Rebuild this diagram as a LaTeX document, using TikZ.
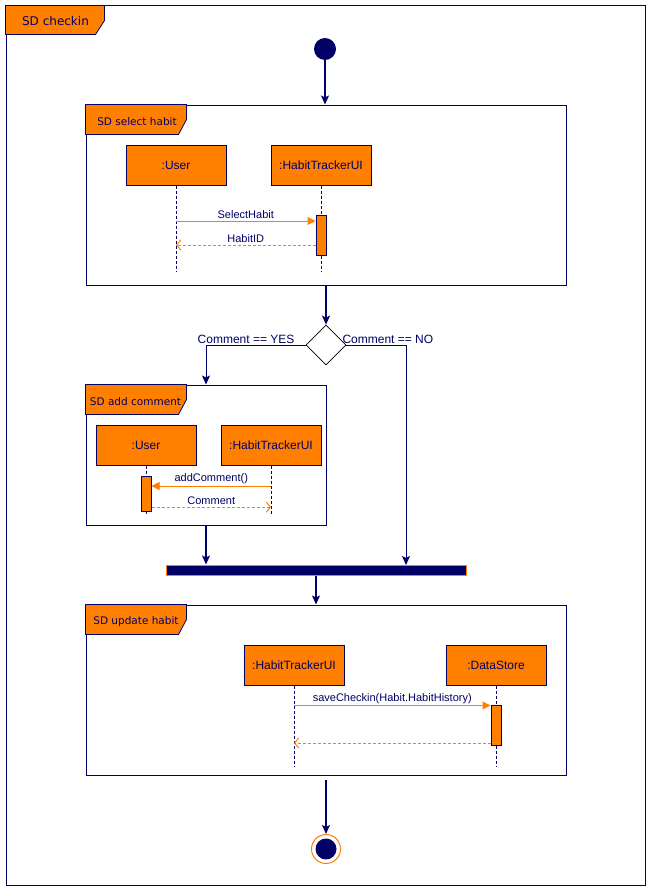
\documentclass[tikz,border=0pt]{standalone}
\usepackage{fontspec}
\setmainfont{Liberation Sans}
\newfontfamily\tabfont{DejaVu Sans}
\usetikzlibrary{arrows.meta,shapes.geometric,positioning}

\definecolor{sdnavy}{HTML}{000066}
\definecolor{sdorange}{HTML}{FF8000}

\tikzset{
  sdframe/.style={draw=sdnavy, line width=1pt, inner sep=0pt},
  sdtab/.style={draw=sdnavy, fill=sdorange, line width=0.8pt},
  tabtext/.style={text=sdnavy, inner sep=0pt, font=\tabfont\fontsize{10.5}{12}\selectfont},
  obj/.style={draw=sdnavy, fill=sdorange, line width=1pt, minimum width=100pt, minimum height=40pt,
    inner sep=0pt, text=sdnavy, font=\fontsize{12}{14}\selectfont},
  act/.style={draw=sdnavy, fill=sdorange, line width=1pt, minimum width=10pt, minimum height=40pt, inner sep=0pt},
  lifeline/.style={draw=sdnavy, line width=0.8pt, dash pattern=on 3pt off 2pt},
  call/.style={draw=sdorange, line width=1pt, -{Triangle[length=8pt,width=8pt]}},
  back/.style={draw=sdorange, line width=1pt, dash pattern=on 3pt off 2pt, -{Straight Barb[length=4pt,width=10pt]}},
  msglabel/.style={text=sdnavy, inner sep=1.5pt, font=\fontsize{11}{13}\selectfont},
  guard/.style={text=sdnavy, inner sep=1pt, font=\fontsize{12}{14}\selectfont},
  flow/.style={draw=sdnavy, line width=1.3pt, -{Stealth[length=9pt,width=8pt,inset=2pt]}},
  decision/.style={diamond, draw=black, fill=white, line width=0.7pt, minimum width=40pt, minimum height=40pt, inner sep=0pt},
  joinbar/.style={draw=sdorange, fill=sdnavy, line width=1pt, minimum width=300pt, minimum height=10pt, inner sep=0pt}
}

\begin{document}
\begin{tikzpicture}[x=1pt,y=-1pt]
\useasboundingbox (0,0) rectangle (651,891);

% outer frame
\node[sdframe, minimum width=639pt, minimum height=879pt] (checkin) at (325.5,445.5) {};
\filldraw[sdtab] (checkin.north west) -- ++(99,0) -- ++(0,15) -- ++(-9,14) -- ++(-90,0) -- cycle;
\node[tabtext, font=\tabfont\fontsize{12}{14}\selectfont] (checkinTitle) at (55.5,21) {SD checkin};

\node[circle, fill=sdnavy, minimum size=22pt, inner sep=0pt] (start) at (325,49) {};

%% select habit
\node[sdframe, minimum width=480pt, minimum height=180pt] (selFrame) at (326,195) {};
\filldraw[sdtab] (selFrame.north west) -- ++(101,0) -- ++(0,15) -- ++(-8,15) -- ++(-93,0) -- cycle;
\node[tabtext] (selTitle) at (137,122) {SD select habit};
\draw[flow] (start) -- (start |- selFrame.north);

\node[obj] (selUser) at (176,165) {:User};
\node[obj] (selUI) at (321,165) {:HabitTrackerUI};
\coordinate (selUserEnd) at (176,272);
\coordinate (selUIEnd) at (321,272);
\draw[lifeline] (selUser) -- (selUserEnd);
\draw[lifeline] (selUI) -- (selUIEnd);
\node[act] (selAct) at (321,235) {};
\coordinate (selCall) at (176,221);
\coordinate (selBack) at (176,245);
\draw[call] (selCall) -- (selCall -| selAct.west) node[msglabel, midway, above] {SelectHabit};
\draw[back] (selBack -| selAct.west) -- (selBack) node[msglabel, midway, above] {HabitID};

%% decision
\node[decision] (dec) at (326,345) {};
\draw[flow] (selFrame.south) -- (dec.north);
\node[guard, above left=0pt and 10pt of dec.west] (yesLabel) {Comment == YES};
\node[guard, above right=0pt and -5pt of dec.east] (noLabel) {Comment == NO};

%% add comment
\node[sdframe, minimum width=240pt, minimum height=140pt] (comFrame) at (206,455) {};
\filldraw[sdtab] (comFrame.north west) -- ++(101,0) -- ++(0,15) -- ++(-8,15) -- ++(-93,0) -- cycle;
\node[tabtext] (comTitle) at (135.5,402) {SD add comment};
\draw[flow, line width=1pt] (dec.west) -| (comFrame.north);

\node[obj] (comUser) at (146,445) {:User};
\node[obj] (comUI) at (271,445) {:HabitTrackerUI};
\coordinate (comUserEnd) at (146,515);
\coordinate (comUIEnd) at (271,515);
\draw[lifeline] (comUser) -- (comUserEnd);
\draw[lifeline] (comUI) -- (comUIEnd);
\node[act, minimum height=35pt] (comAct) at (146,493.5) {};
\coordinate (comCall) at (271,486);
\coordinate (comBack) at (271,507);
\draw[call] (comCall) -- (comCall -| comAct.east) node[msglabel, midway, above] {addComment()};
\draw[back] (comBack -| comAct.east) -- (comBack) node[msglabel, midway, above] {Comment};

%% join
\node[joinbar] (join) at (316,570) {};
\coordinate (noDown) at (406,565);
\draw[flow] (comFrame.south) -- (comFrame.south |- join.north);
\draw[flow, line width=1pt] (dec.east) -| (noDown);

%% update habit
\node[sdframe, minimum width=480pt, minimum height=170pt] (updFrame) at (326,690) {};
\filldraw[sdtab] (updFrame.north west) -- ++(101,0) -- ++(0,15) -- ++(-8,15) -- ++(-93,0) -- cycle;
\node[tabtext] (updTitle) at (136,622) {SD update habit};
\draw[flow] (join.south) -- (join.south |- updFrame.north);

\node[obj] (updUI) at (294,665) {:HabitTrackerUI};
\node[obj] (updStore) at (496,665) {:DataStore};
\coordinate (updUIEnd) at (294,766);
\coordinate (updStoreEnd) at (496,766);
\draw[lifeline] (updUI) -- (updUIEnd);
\draw[lifeline] (updStore) -- (updStoreEnd);
\node[act] (updAct) at (496,725) {};
\coordinate (updCall) at (294,705.5);
\coordinate (updBack) at (294,743);
\draw[call] (updCall) -- (updCall -| updAct.west) node[msglabel, midway, above] {saveCheckin(Habit.HabitHistory)};
\draw[back] (updBack -| updAct.west) -- (updBack);

%% final
\node[circle, draw=sdorange, fill=white, line width=1pt, minimum size=29pt, inner sep=0pt] (stop) at (326,849) {};
\node[circle, fill=sdnavy, minimum size=21pt, inner sep=0pt] (stopDot) at (stop) {};
\coordinate (finalFrom) at (326,780);
\draw[flow] (finalFrom) -- (stop);
\end{tikzpicture}
\end{document}
